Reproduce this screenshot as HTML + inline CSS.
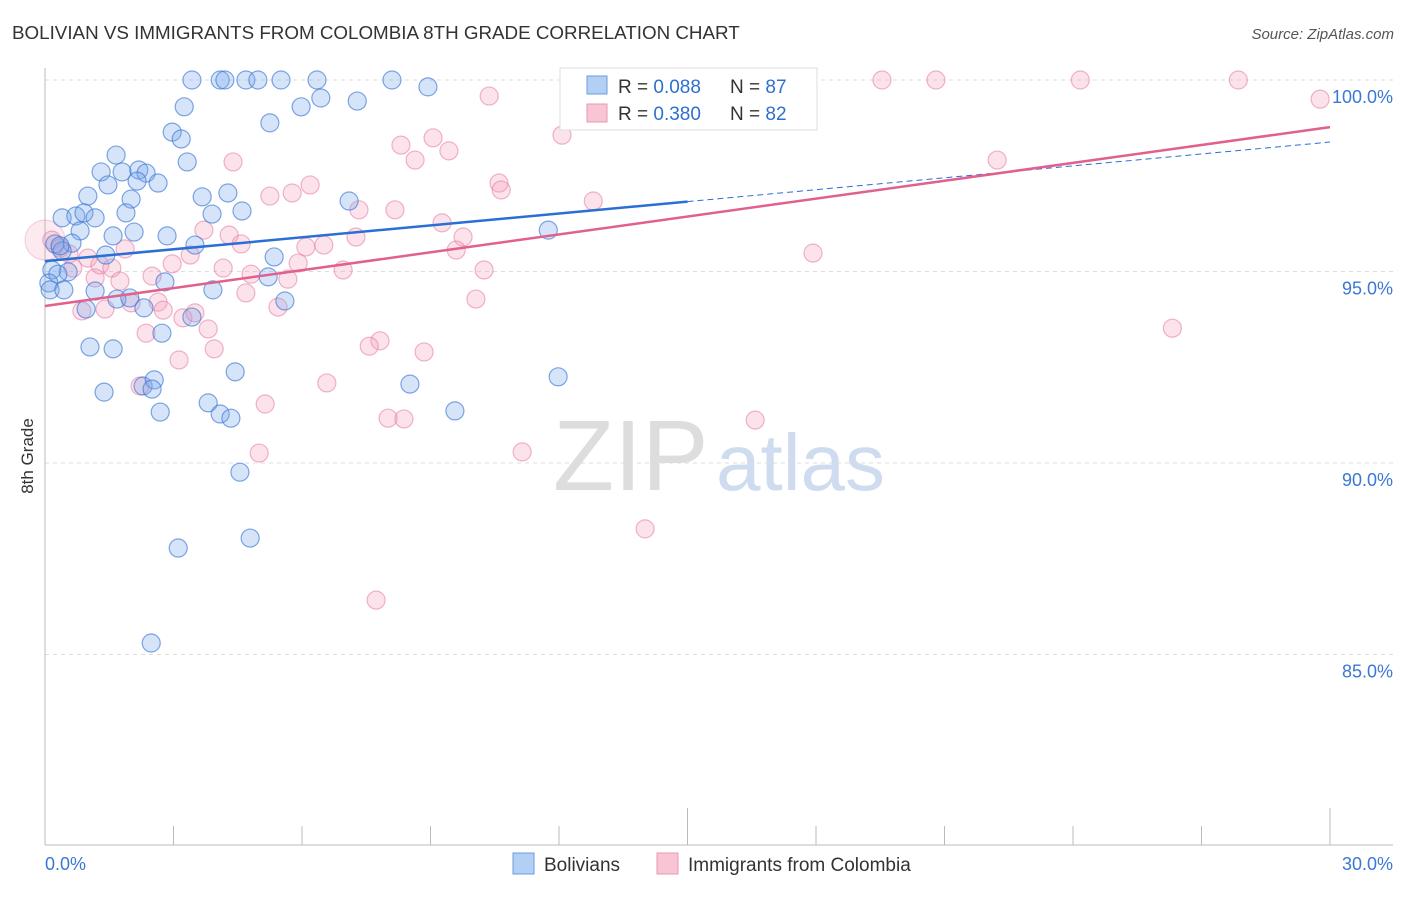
<!DOCTYPE html>
<html><head><meta charset="utf-8"><style>
body{margin:0;background:#fff;font-family:"Liberation Sans",sans-serif;}
svg text{font-family:"Liberation Sans",sans-serif;}
</style></head><body>
<svg id="chart" width="1406" height="892">
<text x="12" y="39" font-size="18.8" fill="#333">BOLIVIAN VS IMMIGRANTS FROM COLOMBIA 8TH GRADE CORRELATION CHART</text>
<text x="1394" y="39" font-size="15" fill="#555" font-style="italic" text-anchor="end">Source: ZipAtlas.com</text>
<text transform="translate(33,456) rotate(-90)" font-size="17" fill="#333" text-anchor="middle">8th Grade</text>
<g><text x="553" y="490" font-size="100" fill="#ddd" font-family="Liberation Serif, serif">ZIP</text><text x="716" y="490" font-size="80" fill="#cfdcf0">atlas</text></g>
<g id="grid"></g><g id="axes"></g><g id="pts"></g><g id="trend"></g>
<g>
<rect x="560" y="68" width="257" height="62" fill="#fff" stroke="#ddd"/>
<rect x="587" y="76" width="20" height="18" fill="#b4cff4" stroke="#6a9ee0"/>
<rect x="587" y="104" width="20" height="18" fill="#f9c4d3" stroke="#e89ab2"/>
<text x="618" y="93" font-size="19" fill="#333">R = <tspan fill="#2e6fd0">0.088</tspan></text>
<text x="730" y="93" font-size="19" fill="#333">N = <tspan fill="#2e6fd0">87</tspan></text>
<text x="618" y="120" font-size="19" fill="#333">R = <tspan fill="#2e6fd0">0.380</tspan></text>
<text x="730" y="120" font-size="19" fill="#333">N = <tspan fill="#2e6fd0">82</tspan></text>
</g>
<g>
<rect x="513" y="853" width="21" height="21" fill="#b4cff4" stroke="#6a9ee0"/>
<text x="544" y="871" font-size="19" fill="#333">Bolivians</text>
<rect x="657" y="853" width="21" height="21" fill="#f9c4d3" stroke="#e89ab2"/>
<text x="688" y="871" font-size="19" fill="#333">Immigrants from Colombia</text>
</g>
</svg>
<script>
const xTicks=[0,3,6,9,12,15,18,21,24,27,30];
const yTicks=[85,90,95,100];
const yTickLabels=["85.0%","90.0%","95.0%","100.0%"];
const blueX=[3.43,4.09,4.20,4.69,4.97,5.51,6.35,8.10,8.94,6.44,7.29,3.25,5.98,2.97,3.18,5.25,1.66,3.32,1.31,1.80,2.19,2.36,1.47,2.15,2.64,1.00,2.01,3.67,4.27,0.40,0.72,0.91,1.17,1.89,3.90,4.60,7.10,0.82,1.59,2.08,2.85,11.75,0.63,0.23,3.50,0.40,1.42,5.35,0.16,0.54,0.30,0.09,0.12,0.44,1.17,3.92,5.21,2.80,1.68,1.98,2.31,0.96,3.43,5.60,2.73,1.05,1.59,4.44,1.38,2.29,2.55,2.50,2.69,3.81,4.09,4.34,8.52,9.57,11.98,4.55,3.11,4.79,2.48,0.35];
const blueY=[100,100,100,100,100,100,100,100,99.82,99.53,99.45,99.30,99.30,98.64,98.46,98.88,98.04,97.86,97.60,97.60,97.65,97.57,97.26,97.36,97.31,96.97,96.89,96.95,97.05,96.40,96.45,96.53,96.40,96.53,96.50,96.58,96.84,96.06,95.93,96.03,95.93,96.08,95.74,95.72,95.69,95.54,95.43,95.38,95.04,94.99,94.93,94.70,94.52,94.52,94.49,94.52,94.86,94.73,94.28,94.31,94.05,94.02,93.81,94.23,93.39,93.03,92.98,92.38,91.85,92.01,92.17,91.93,91.33,91.57,91.28,91.17,92.06,91.36,92.25,89.76,87.78,88.04,85.30,95.67];
const pinkX=[13.80,19.54,20.80,24.17,27.86,29.77,10.37,12.07,8.31,9.06,9.43,8.64,4.39,22.23,6.19,10.60,10.65,5.77,5.25,12.80,8.17,7.33,9.27,3.71,4.30,7.26,9.76,1.87,4.58,6.09,6.51,9.60,17.93,0.16,0.35,0.56,1.00,0.65,3.39,1.28,1.56,2.97,4.16,5.91,6.96,10.25,1.17,1.75,2.50,4.81,5.67,0.86,1.40,2.64,2.76,2.01,4.69,5.44,10.06,3.22,3.50,3.81,2.36,3.95,7.82,7.57,8.85,3.13,6.58,2.22,5.14,8.01,8.38,16.58,26.32,5.00,11.14,14.01,7.73];
const pinkY=[100,100,100,100,100,99.50,99.58,98.56,98.30,98.49,98.15,97.91,97.86,97.91,97.26,97.31,97.13,97.05,96.97,96.84,96.61,96.61,96.27,96.08,95.95,95.90,95.90,95.59,95.72,95.64,95.69,95.56,95.48,95.82,95.61,95.46,95.35,95.09,95.43,95.17,95.09,95.20,95.09,95.22,95.04,95.04,94.83,94.75,94.88,94.93,94.80,93.97,94.02,94.20,93.99,94.18,94.44,94.07,94.28,93.79,93.92,93.50,93.39,92.98,93.19,93.05,92.90,92.69,92.09,92.01,91.54,91.17,91.15,91.12,93.52,90.26,90.29,88.28,86.42];
const blueTrend=[95.27,98.38];
const pinkTrend=[94.10,98.77];
const blueSolidEnd=15;
const X=v=>45+v/30*1285;
const Y=v=>80+(100-v)*38.3;
const NS="http://www.w3.org/2000/svg";
function mk(tag,attrs,parent){const e=document.createElementNS(NS,tag);for(const k in attrs)e.setAttribute(k,attrs[k]);parent.appendChild(e);return e;}
const grid=document.getElementById('grid'),axes=document.getElementById('axes'),pts=document.getElementById('pts'),trend=document.getElementById('trend');
yTicks.forEach((t,i)=>{
  const l=mk('line',{x1:45,x2:1393,y1:Y(t),y2:Y(t),stroke:'#ddd','stroke-dasharray':'4,4'},grid);
  
  
  const tx=mk('text',{x:1393,y:Y(t)+23,'font-size':18,fill:'#3a78d4','text-anchor':'end'},axes);
  tx.textContent=yTickLabels[i];
  
  
});
const ax=mk('line',{x1:45,x2:45,y1:68,y2:845,stroke:'#bbb'},axes);


const bx=mk('line',{x1:45,x2:1393,y1:845,y2:845,stroke:'#bbb'},axes);


xTicks.forEach((t,i)=>{
  const tall=(i===5||i===10);
  const tk=mk('line',{x1:X(t),x2:X(t),y1:tall?808:826,y2:845,stroke:'#bbb'},axes);
  
  
});
const xl0=mk('text',{x:45,y:870,'font-size':18,fill:'#3a78d4'},axes);xl0.textContent=xTicks[0].toFixed(1)+'%';


const xl1=mk('text',{x:1393,y:870,'font-size':18,fill:'#3a78d4','text-anchor':'end'},axes);xl1.textContent=xTicks[10].toFixed(1)+'%';


const big=mk('circle',{cx:X(0),cy:Y(95.82),r:20,fill:'rgba(240,150,180,0.2)',stroke:'rgba(230,130,165,0.4)'},pts);


pinkX.forEach((x,i)=>{
  const c=mk('circle',{cx:X(x),cy:Y(pinkY[i]),r:9,fill:'rgba(244,160,188,0.3)','stroke':'rgba(228,120,160,0.55)','stroke-width':1.2},pts);
  
  
});
blueX.forEach((x,i)=>{
  const c=mk('circle',{cx:X(x),cy:Y(blueY[i]),r:9,fill:'rgba(120,165,235,0.3)','stroke':'rgba(60,120,210,0.65)','stroke-width':1.2},pts);
  
  
});
const bAt=x=>blueTrend[0]+(blueTrend[1]-blueTrend[0])*x/30;
const b1=mk('line',{x1:X(0),y1:Y(bAt(0)),x2:X(blueSolidEnd),y2:Y(bAt(blueSolidEnd)),stroke:'#2a6fd4','stroke-width':2.5},trend);


const b2=mk('line',{x1:X(blueSolidEnd),y1:Y(bAt(blueSolidEnd)),x2:X(30),y2:Y(bAt(30)),stroke:'#2a6fd4','stroke-width':1,'stroke-dasharray':'6,4'},trend);


const p1=mk('line',{x1:X(0),y1:Y(pinkTrend[0]),x2:X(30),y2:Y(pinkTrend[1]),stroke:'#e0608e','stroke-width':2.5},trend);


</script>
</body></html>
